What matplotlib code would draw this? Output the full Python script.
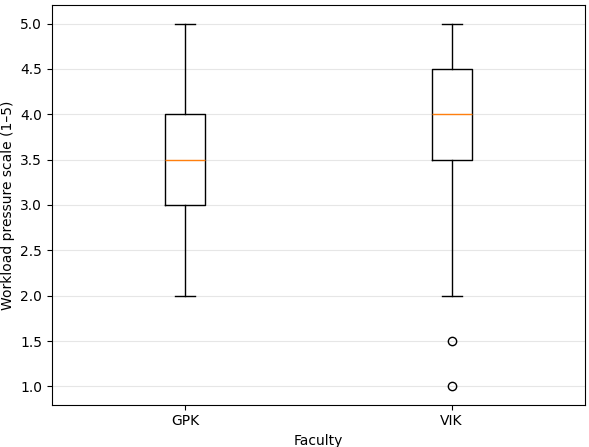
import matplotlib
matplotlib.use("Agg")
import matplotlib.pyplot as plt

faculties = ["GPK", "VIK"]
whislo = [2.0, 2.0]
q1 = [3.0, 3.5]
med = [3.5, 4.0]
q3 = [4.0, 4.5]
whishi = [5.0, 5.0]
fliers = [[], [1.0, 1.5]]

stats = [dict(label=f, whislo=a, q1=b, med=c, q3=d, whishi=e, fliers=g)
         for f, a, b, c, d, e, g in zip(faculties, whislo, q1, med, q3, whishi, fliers)]

fig = plt.figure(figsize=(5.89, 4.47), dpi=100)
ax = fig.add_axes([0.088, 0.095, 0.905, 0.893])
ax.bxp(stats)
ax.yaxis.grid(True, color="#e6e6e6", linewidth=0.8)
ax.set_axisbelow(True)
ax.set_xlabel("Faculty")
ax.set_ylabel("Workload pressure scale (1–5)")
fig.savefig("out.png", dpi=100)
